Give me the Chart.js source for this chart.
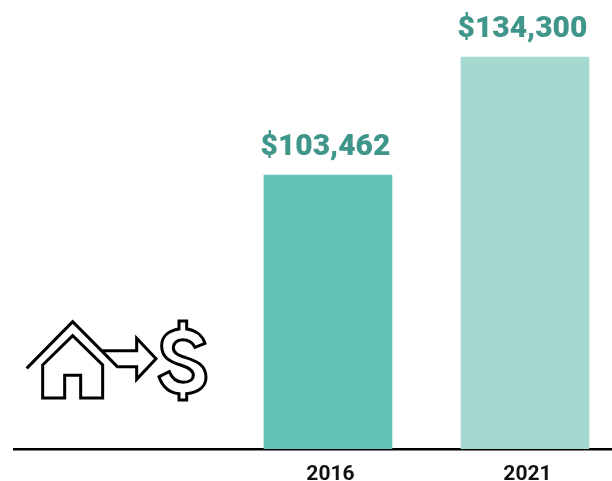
<!DOCTYPE html>
<html>
<head>
<meta charset="utf-8">
<style>
  html, body { margin: 0; padding: 0; background: #fff; }
  #wrap { width: 612px; height: 481px; }
</style>
<script src="https://cdn.jsdelivr.net/npm/chart.js@4"></script>
</head>
<body>
<div id="wrap"><canvas id="chBar"></canvas></div>
<script>
const years = [2016, 2021];
const prices = [103462, 134300];
const yearLabels = ['2016', '2021'];
const colors = ['#5FC2B5', '#A3D9CF'];
const labelColor = '#40968A';

Chart.defaults.font.family = 'Roboto';

// value labels above the bars
const valueLabels = {
  id: 'valueLabels',
  afterDatasetsDraw(chart) {
    const ctx = chart.ctx;
    ctx.save();
    ctx.font = '900 30px Roboto';
    ctx.fillStyle = labelColor;
    ctx.textAlign = 'center';
    ctx.textBaseline = 'alphabetic';
    chart.getDatasetMeta(0).data.forEach((bar, i) => {
      ctx.fillText('$' + prices[i].toLocaleString('en-US'), bar.x - 2.5, bar.y - 20);
    });
    ctx.restore();
  }
};

// house -> dollar icon on the left
const houseIcon = {
  id: 'houseIcon',
  afterDraw(chart) {
    const ctx = chart.ctx;
    ctx.save();
    ctx.translate(10, 300);
    ctx.scale(1 / 3, 1 / 3);
    ctx.strokeStyle = '#000';
    ctx.lineWidth = 9;
    ctx.lineJoin = 'miter';

    // roof running into the arrow
    ctx.beginPath();
    ctx.moveTo(50, 205);
    ctx.lineTo(188, 65);
    ctx.lineTo(322, 200);
    ctx.lineTo(380, 200);
    ctx.lineTo(380, 238);
    ctx.lineTo(438, 176);
    ctx.lineTo(380, 115);
    ctx.lineTo(380, 152);
    ctx.lineTo(277, 152);
    ctx.stroke();

    // house
    ctx.beginPath();
    ctx.moveTo(98, 195);
    ctx.lineTo(188, 107);
    ctx.lineTo(278, 195);
    ctx.lineTo(278, 294);
    ctx.lineTo(212, 294);
    ctx.lineTo(212, 226);
    ctx.lineTo(164, 226);
    ctx.lineTo(164, 294);
    ctx.lineTo(98, 294);
    ctx.closePath();
    ctx.stroke();
    ctx.restore();

    // outlined dollar sign
    ctx.save();
    ctx.translate(150, 315);
    ctx.scale(1 / 3, 1 / 3);
    ctx.strokeStyle = '#000';
    ctx.lineWidth = 9;
    ctx.beginPath();
    ctx.moveTo(87, 18);
    ctx.lineTo(110, 18);
    ctx.lineTo(110, 42);
    ctx.bezierCurveTo(135, 45, 157, 60, 165, 85);
    ctx.lineTo(135, 97);
    ctx.bezierCurveTo(128, 82, 115, 74, 98, 74);
    ctx.bezierCurveTo(80, 74, 70, 85, 70, 98);
    ctx.bezierCurveTo(70, 115, 85, 120, 105, 127);
    ctx.bezierCurveTo(140, 138, 168, 150, 168, 187);
    ctx.bezierCurveTo(168, 215, 145, 232, 110, 236);
    ctx.lineTo(110, 255);
    ctx.lineTo(87, 255);
    ctx.lineTo(87, 236);
    ctx.bezierCurveTo(60, 233, 38, 218, 27, 185);
    ctx.lineTo(58, 170);
    ctx.bezierCurveTo(65, 188, 80, 202, 100, 202);
    ctx.bezierCurveTo(120, 202, 130, 192, 130, 180);
    ctx.bezierCurveTo(130, 165, 115, 158, 92, 150);
    ctx.bezierCurveTo(60, 140, 35, 128, 35, 92);
    ctx.bezierCurveTo(35, 65, 55, 47, 87, 42);
    ctx.closePath();
    ctx.stroke();
    ctx.restore();
  }
};

new Chart(document.getElementById('chBar'), {
  type: 'bar',
  data: {
    datasets: [{
      data: years.map((y, i) => ({ x: y, y: prices[i] })),
      backgroundColor: colors,
      borderWidth: 0,
      barThickness: 128
    }]
  },
  options: {
    responsive: true,
    maintainAspectRatio: false,
    animation: false,
    layout: { padding: { left: 14, right: 0, top: 0, bottom: 0 } },
    plugins: { legend: { display: false }, tooltip: { enabled: false } },
    scales: {
      x: {
        type: 'linear',
        offset: false,
        min: 2008.03,
        max: 2023.21,
        afterBuildTicks(scale) { scale.ticks = years.map(v => ({ value: v })); },
        afterFit(scale) { scale.height = 32; },
        border: { color: '#000', width: 2.5 },
        grid: { display: false, drawTicks: false },
        ticks: {
          autoSkip: false,
          maxRotation: 0,
          labelOffset: 2.5,
          padding: 13,
          color: '#111',
          font: { size: 21, weight: 'bold', family: 'Roboto' },
          callback(v) { return yearLabels[years.indexOf(v)]; }
        }
      },
      y: {
        display: false,
        min: 31860,
        max: 149200
      }
    }
  },
  plugins: [valueLabels, houseIcon]
});
</script>
</body>
</html>
